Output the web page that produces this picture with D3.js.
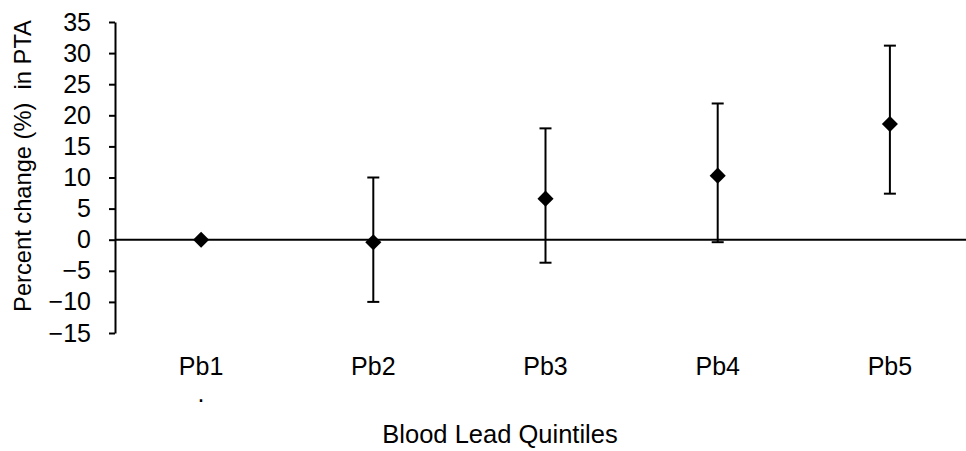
<!DOCTYPE html>
<html>
<head>
<meta charset="utf-8">
<script src="https://cdn.jsdelivr.net/npm/d3@7"></script>
<style>
  body { margin: 0; background: #fff; }
  svg { display: block; font-family: "Liberation Sans", Arial, sans-serif; }
</style>
</head>
<body>
<svg id="chart" width="966" height="451"></svg>
<script>
// values
const quintiles = ["Pb1", "Pb2", "Pb3", "Pb4", "Pb5"];
const estimate  = [0, -0.4, 6.6, 10.3, 18.6];
const lowerCI   = [null, -10, -3.7, -0.4, 7.4];
const upperCI   = [null, 10, 17.9, 21.9, 31.2];
const yTicks    = [-15, -10, -5, 0, 5, 10, 15, 20, 25, 30, 35];

const svg = d3.select("#chart");
const axisX = 115;

const x = d3.scalePoint().domain(quintiles).range([axisX, 976]).padding(0.5);
const y = d3.scaleLinear().domain([-15, 35]).range([333, 22]);

const rows = quintiles.map((q, i) => ({q, est: estimate[i], lo: lowerCI[i], hi: upperCI[i]}));

// y axis
const yAxisG = svg.append("g").attr("transform", "translate(" + axisX + ",0)")
  .call(d3.axisLeft(y).tickValues(yTicks).tickSize(6).tickPadding(18).tickSizeOuter(0));
yAxisG.select(".domain").attr("stroke", "#000").attr("stroke-width", 2);
yAxisG.selectAll(".tick line").attr("stroke", "#000").attr("stroke-width", 2);
yAxisG.selectAll(".tick text").attr("font-size", 25).attr("fill", "#000")
  .attr("font-family", "Liberation Sans, Arial, sans-serif");

// zero line
svg.append("line")
  .attr("x1", axisX).attr("x2", 966)
  .attr("y1", y(0)).attr("y2", y(0))
  .attr("stroke", "#000").attr("stroke-width", 2);

// error bars
const bars = svg.append("g").selectAll("g").data(rows.filter(d => d.lo !== null)).join("g");
bars.append("line")
  .attr("x1", d => x(d.q)).attr("x2", d => x(d.q))
  .attr("y1", d => y(d.lo)).attr("y2", d => y(d.hi))
  .attr("stroke", "#000").attr("stroke-width", 2);
bars.selectAll(".cap").data(d => [{q: d.q, v: d.lo}, {q: d.q, v: d.hi}]).join("line")
  .attr("class", "cap")
  .attr("x1", d => x(d.q) - 6).attr("x2", d => x(d.q) + 6)
  .attr("y1", d => y(d.v)).attr("y2", d => y(d.v))
  .attr("stroke", "#000").attr("stroke-width", 2);

// diamonds
svg.append("g").selectAll("path").data(rows).join("path")
  .attr("d", d3.symbol(d3.symbolSquare, 130))
  .attr("transform", d => "translate(" + x(d.q) + "," + y(d.est) + ") rotate(45)")
  .attr("fill", "#000");

// category labels
svg.append("g").selectAll("text").data(quintiles).join("text")
  .attr("x", d => x(d)).attr("y", 375)
  .attr("text-anchor", "middle").attr("font-size", 25)
  .text(d => d);

// stray dot under Pb1
svg.append("text").attr("x", x("Pb1")).attr("y", 402)
  .attr("text-anchor", "middle").attr("font-size", 25).text(".");

// axis titles
svg.append("text").attr("x", 500).attr("y", 443)
  .attr("text-anchor", "middle").attr("font-size", 25.5)
  .text("Blood Lead Quintiles");

svg.append("text")
  .attr("transform", "translate(31,166) rotate(-90)")
  .attr("text-anchor", "middle").attr("font-size", 23.7)
  .attr("xml:space", "preserve")
  .text("Percent change (%)  in PTA");
</script>
</body>
</html>
